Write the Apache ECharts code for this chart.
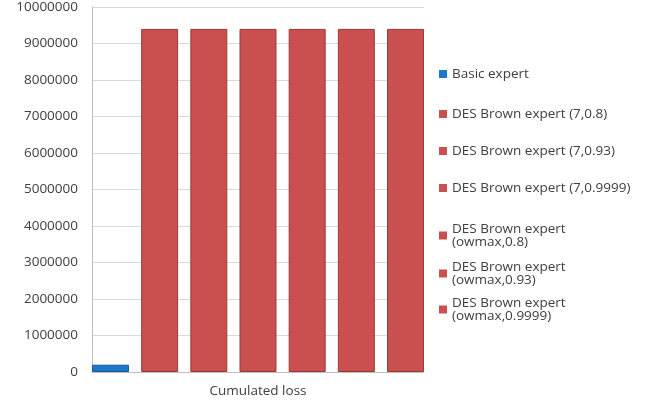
<!DOCTYPE html>
<html><head><meta charset="utf-8">
<script src="https://cdn.jsdelivr.net/npm/echarts@6/dist/echarts.min.js"></script>
<style>html,body{margin:0;padding:0;background:#fff}#c{width:660px;height:407px}</style>
</head><body><div id="c"></div>
<script>
const categories = ['Cumulated loss'];
const seriesNames = ['Basic expert','DES Brown expert (7,0.8)','DES Brown expert (7,0.93)','DES Brown expert (7,0.9999)','DES Brown expert (owmax,0.8)','DES Brown expert (owmax,0.93)','DES Brown expert (owmax,0.9999)'];
const seriesValues = [[200000],[9400000],[9400000],[9400000],[9400000],[9400000],[9400000]];
const legendLabels = ['Basic expert','DES Brown expert (7,0.8)','DES Brown expert (7,0.93)','DES Brown expert (7,0.9999)','DES Brown expert\n(owmax,0.8)','DES Brown expert\n(owmax,0.93)','DES Brown expert\n(owmax,0.9999)'];
const yTicks = {min:0, max:10000000, interval:1000000};

const colors = ['#1f77c9','#c9504e','#c9504e','#c9504e','#c9504e','#c9504e','#c9504e'];
const borders = ['#155a9a','#9a3a38','#9a3a38','#9a3a38','#9a3a38','#9a3a38','#9a3a38'];
const legendTops = [67,107,144,181,222,260,296];
const font = 'Open Sans, DejaVu Sans, sans-serif';

const chart = echarts.init(document.getElementById('c'), null, {renderer:'canvas'});
chart.setOption({
  animation:false,
  grid:{left:92, right:236, top:6, bottom:35},
  legend: seriesNames.map((n,i)=>({
    data:[n], orient:'vertical', left:439, top:legendTops[i],
    itemWidth:8, itemHeight:8, icon:'rect', padding:0, itemGap:6,
    itemStyle:{borderWidth:0},
    formatter: ()=>legendLabels[i],
    textStyle:{fontFamily:font, fontSize:13.5, color:'#404040', lineHeight:13}
  })),
  xAxis:{type:'category', data:categories,
    axisLine:{show:true, lineStyle:{color:'#bfbfbf'}},
    axisTick:{show:false},
    axisLabel:{fontFamily:font, fontSize:13.5, color:'#404040', margin:12}},
  yAxis:{type:'value', min:yTicks.min, max:yTicks.max, interval:yTicks.interval,
    axisLine:{show:true, lineStyle:{color:'#bfbfbf'}},
    axisTick:{show:false},
    splitLine:{lineStyle:{color:'#d9d9d9'}},
    axisLabel:{fontFamily:font, fontSize:13.5, color:'#404040', margin:14, formatter:v=>String(v)}},
  series: seriesNames.map((n,i)=>({
    name:n, type:'bar', data:seriesValues[i],
    barCategoryGap:'0%', barGap:'33%',
    itemStyle:{color:colors[i], borderColor:borders[i], borderWidth:1}
  }))
});
</script></body></html>
